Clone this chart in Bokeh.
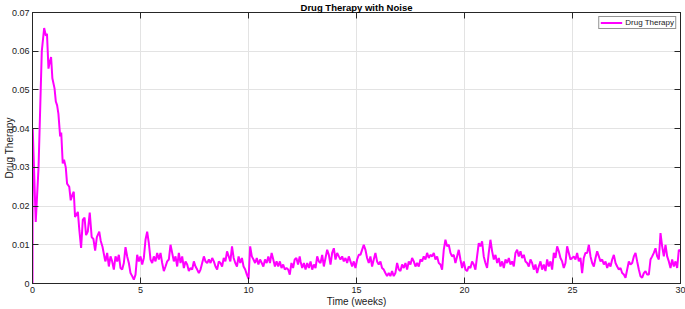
import numpy as np
from bokeh.plotting import figure
from bokeh.models import (FixedTicker, LinearAxis, CustomJSTickFormatter, Range1d,
                          Legend, LegendItem, ColumnDataSource)
from bokeh.embed import file_html
from bokeh.resources import INLINE

# ---------------- data ----------------
x_ticks = [0, 5, 10, 15, 20, 25, 30]
y_ticks = [0, 0.01, 0.02, 0.03, 0.04, 0.05, 0.06, 0.07]

# initial transient, irregularly sampled (weeks, value)
early_t = [0, 0.01, 0.15, 0.28, 0.36, 0.43, 0.54, 0.62, 0.67, 0.74, 0.79, 0.86, 0.92,
           1.02, 1.08, 1.14, 1.20, 1.28, 1.33, 1.40, 1.46, 1.54, 1.60, 1.70, 1.77, 1.85,
           1.91, 1.97, 2.10, 2.17, 2.25, 2.33, 2.41, 2.48, 2.56, 2.65, 2.74, 2.82, 2.90,
           2.98, 3.09, 3.16, 3.24, 3.36]
early_v = [0, 0.040, 0.0159, 0.030, 0.046, 0.060, 0.066, 0.064, 0.0645, 0.0555, 0.057,
           0.0585, 0.053, 0.0504, 0.047, 0.046, 0.0438, 0.038, 0.039, 0.031, 0.032, 0.030,
           0.0258, 0.025, 0.0215, 0.023, 0.0237, 0.0172, 0.0185, 0.0137, 0.0092, 0.0165,
           0.017, 0.0125, 0.0134, 0.0183, 0.012, 0.0115, 0.0085, 0.012, 0.0134, 0.011,
           0.0095, 0.006]

# noisy plateau, evenly sampled within each span
seg_a_span = (3.38, 8.01)
seg_a_v = [0.0057, 0.0079, 0.0044, 0.0070, 0.0057, 0.0036, 0.0070, 0.0057, 0.0074, 0.0040,
           0.0036, 0.0053, 0.0094, 0.0070, 0.0053, 0.0027, 0.0019, 0.0010, 0.0023, 0.0074,
           0.0057, 0.0070, 0.0049, 0.0066, 0.0113, 0.0134, 0.0104, 0.0062, 0.0053, 0.0070,
           0.0057, 0.0079, 0.0062, 0.0079, 0.0053, 0.0032, 0.0044, 0.0057, 0.0062, 0.0100,
           0.0079, 0.0057, 0.0070, 0.0044, 0.0079, 0.0053, 0.0070, 0.0040, 0.0057, 0.0049,
           0.0032, 0.0040, 0.0036, 0.0057, 0.0044, 0.0036, 0.0027, 0.0036, 0.0053, 0.0070,
           0.0057]
seg_b_span = (8.09, 12.37)
seg_b_v = [0.0053, 0.0062, 0.0053, 0.0066, 0.0057, 0.0044, 0.0036, 0.0057, 0.0053, 0.0044,
           0.0066, 0.0057, 0.0083, 0.0070, 0.0057, 0.0096, 0.0066, 0.0053, 0.0044, 0.0070,
           0.0053, 0.0066, 0.0044, 0.0036, 0.0023, 0.0012, 0.0096, 0.0070, 0.0062, 0.0053,
           0.0066, 0.0049, 0.0062, 0.0053, 0.0044, 0.0062, 0.0053, 0.0070, 0.0053, 0.0079,
           0.0062, 0.0044, 0.0057, 0.0044, 0.0057, 0.0040, 0.0049, 0.0036, 0.0040, 0.0036,
           0.0023, 0.0053, 0.0040, 0.0062, 0.0066, 0.0049, 0.0070]
seg_c_span = (12.41, 16.80)
seg_c_v = [0.0057, 0.0040, 0.0053, 0.0036, 0.0053, 0.0040, 0.0057, 0.0036, 0.0049, 0.0040,
           0.0070, 0.0057, 0.0053, 0.0074, 0.0044, 0.0066, 0.0087, 0.0074, 0.0049, 0.0079,
           0.0091, 0.0062, 0.0079, 0.0070, 0.0062, 0.0070, 0.0057, 0.0066, 0.0053, 0.0070,
           0.0057, 0.0044, 0.0057, 0.0040, 0.0062, 0.0074, 0.0074, 0.0087, 0.0100, 0.0087,
           0.0066, 0.0053, 0.0070, 0.0044, 0.0062, 0.0079, 0.0057, 0.0049, 0.0057, 0.0040,
           0.0036, 0.0027, 0.0019, 0.0027, 0.0019, 0.0032, 0.0019, 0.0027]
seg_d_span = (16.88, 21.20)
seg_d_v = [0.0053, 0.0036, 0.0032, 0.0049, 0.0040, 0.0053, 0.0036, 0.0057, 0.0049, 0.0066,
           0.0057, 0.0044, 0.0053, 0.0044, 0.0062, 0.0057, 0.0070, 0.0062, 0.0079, 0.0066,
           0.0074, 0.0070, 0.0079, 0.0062, 0.0070, 0.0053, 0.0049, 0.0036, 0.0087, 0.0113,
           0.0096, 0.0100, 0.0079, 0.0070, 0.0074, 0.0053, 0.0070, 0.0087, 0.0062, 0.0040,
           0.0057, 0.0036, 0.0032, 0.0044, 0.0040, 0.0057, 0.0049, 0.0036, 0.0070, 0.0104,
           0.0096, 0.0109, 0.0070, 0.0053, 0.0040, 0.0079, 0.0113]
seg_e_span = (21.28, 25.60)
seg_e_v = [0.0083, 0.0062, 0.0074, 0.0053, 0.0066, 0.0044, 0.0057, 0.0040, 0.0062, 0.0053,
           0.0066, 0.0049, 0.0057, 0.0044, 0.0079, 0.0087, 0.0070, 0.0083, 0.0066, 0.0074,
           0.0057, 0.0053, 0.0044, 0.0062, 0.0053, 0.0036, 0.0049, 0.0027, 0.0044, 0.0057,
           0.0036, 0.0049, 0.0032, 0.0062, 0.0044, 0.0057, 0.0036, 0.0079, 0.0066, 0.0096,
           0.0083, 0.0066, 0.0057, 0.0040, 0.0053, 0.0096, 0.0079, 0.0062, 0.0066, 0.0070,
           0.0062, 0.0079, 0.0057, 0.0066, 0.0027, 0.0066, 0.0079]
seg_f_span = (25.68, 30.00)
seg_f_v = [0.0079, 0.0100, 0.0070, 0.0053, 0.0044, 0.0066, 0.0083, 0.0070, 0.0057, 0.0062,
           0.0049, 0.0057, 0.0040, 0.0053, 0.0044, 0.0062, 0.0074, 0.0053, 0.0044, 0.0036,
           0.0040, 0.0027, 0.0023, 0.0015, 0.0036, 0.0057, 0.0049, 0.0053, 0.0070, 0.0079,
           0.0057, 0.0036, 0.0019, 0.0015, 0.0027, 0.0032, 0.0023, 0.0023, 0.0062, 0.0070,
           0.0079, 0.0091, 0.0070, 0.0062, 0.0130, 0.0096, 0.0070, 0.0100, 0.0070, 0.0057,
           0.0040, 0.0062, 0.0044, 0.0057, 0.0040, 0.0087, 0.0083]

# ---------------- assemble the series ----------------
t_all = list(early_t)
v_all = list(early_v)
for span, vals in [(seg_a_span, seg_a_v), (seg_b_span, seg_b_v), (seg_c_span, seg_c_v),
                   (seg_d_span, seg_d_v), (seg_e_span, seg_e_v), (seg_f_span, seg_f_v)]:
    t_all += list(np.linspace(span[0], span[1], len(vals)))
    v_all += list(vals)

src = ColumnDataSource(dict(t=t_all, v=v_all))

FONT = "Liberation Sans"
AX = "#262626"

p = figure(width=685, height=309, output_backend="svg", toolbar_location=None,
           x_range=Range1d(0, 30), y_range=Range1d(0, 0.07),
           title="Drug Therapy with Noise")
p.min_border_left = 0
p.min_border_right = 5
p.min_border_top = 0
p.min_border_bottom = 0
p.background_fill_color = "white"
p.border_fill_color = "white"
p.outline_line_color = AX
p.outline_line_width = 1

p.title.text_font = FONT
p.title.text_font_size = "9.5px"
p.title.text_font_style = "bold"
p.title.text_color = "#000000"
p.title.align = "center"
p.title.standoff = -1
p.title.offset = 0

r = p.line("t", "v", source=src, line_color="#ff00ff", line_width=2)

# main axes
xa = p.xaxis[0]
ya = p.yaxis[0]
xa.ticker = FixedTicker(ticks=x_ticks)
ya.ticker = FixedTicker(ticks=y_ticks)
ya.formatter = CustomJSTickFormatter(code="return tick == 0 ? '0' : tick.toFixed(2);")
xa.axis_label = "Time (weeks)"
ya.axis_label = "Drug Therapy"
for ax in (xa, ya):
    ax.axis_line_color = AX
    ax.major_tick_line_color = AX
    ax.major_tick_in = 6
    ax.major_tick_out = 0
    ax.minor_tick_line_color = None
    ax.major_label_text_font = FONT
    ax.major_label_text_font_size = "9px"
    ax.major_label_text_color = "#1a1a1a"
    ax.axis_label_text_font = FONT
    ax.axis_label_text_font_size = "10px"
    ax.axis_label_text_font_style = "normal"
    ax.axis_label_text_color = "#1a1a1a"
xa.major_label_standoff = 3
xa.axis_label_standoff = 0
ya.major_label_standoff = 3
ya.axis_label_standoff = -6

# mirrored tick-only axes on top and right
blank = CustomJSTickFormatter(code="return '';")
top = LinearAxis(ticker=FixedTicker(ticks=x_ticks), formatter=blank)
right = LinearAxis(ticker=FixedTicker(ticks=y_ticks), formatter=blank)
for ax in (top, right):
    ax.axis_line_color = AX
    ax.major_tick_line_color = AX
    ax.major_tick_in = 6
    ax.major_tick_out = 0
    ax.minor_tick_line_color = None
    ax.major_label_standoff = 0
    ax.major_label_text_font_size = "0px"
p.add_layout(top, "above")
p.add_layout(right, "right")

p.xgrid.ticker = FixedTicker(ticks=x_ticks)
p.ygrid.ticker = FixedTicker(ticks=y_ticks)
p.xgrid.grid_line_color = "#e3e3e3"
p.ygrid.grid_line_color = "#e3e3e3"

legend = Legend(items=[LegendItem(label="Drug Therapy", renderers=[r])],
                location="top_right")
legend.label_text_font = FONT
legend.label_text_font_size = "8px"
legend.label_text_color = "#1a1a1a"
legend.border_line_color = AX
legend.border_line_width = 1
legend.background_fill_color = "white"
legend.background_fill_alpha = 1
legend.padding = 1
legend.spacing = 0
legend.margin = 4
legend.glyph_width = 22
legend.glyph_height = 9
legend.label_height = 9
legend.label_standoff = 3
p.add_layout(legend)

open("out.html", "w").write(file_html(p, INLINE))
